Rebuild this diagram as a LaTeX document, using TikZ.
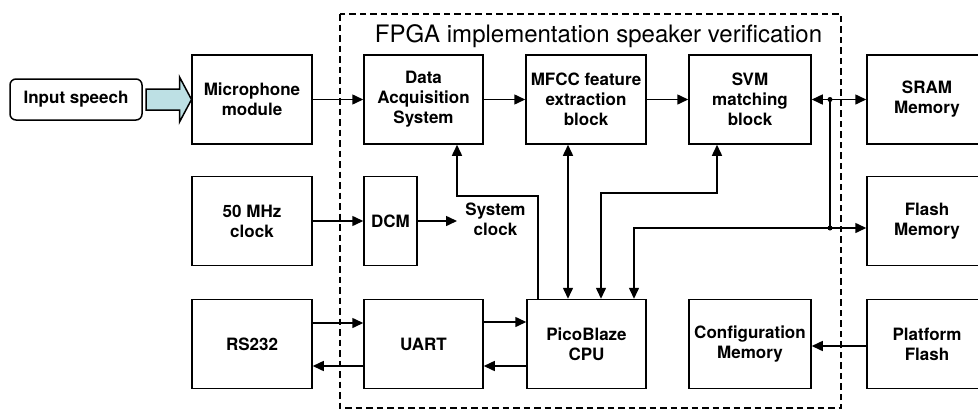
\documentclass[tikz,border=0pt]{standalone}
\usepackage{fontspec}
\setmainfont{TeX Gyre Heros}
\usetikzlibrary{arrows.meta}
\definecolor{feedfill}{RGB}{189,224,228}
\begin{document}
\begin{tikzpicture}[x=1pt,y=-1pt,
  blk/.style={draw, line width=1.5pt, minimum width=120pt, minimum height=89pt,
    inner sep=0pt, align=center, font=\fontsize{17}{20}\selectfont\bfseries},
  lbl/.style={inner sep=0pt, align=center, font=\fontsize{17}{20}\selectfont\bfseries},
  wire/.style={line width=1.5pt},
  arr/.style={wire, -{Triangle[length=11pt,width=10pt]}},
  arrs/.style={wire, {Triangle[length=11pt,width=10pt]}-{Triangle[length=11pt,width=10pt]}},
  dot/.style={fill, circle, inner sep=0pt, minimum size=5pt}]
\useasboundingbox (0,0) rectangle (978,410);
\clip (0,0) rectangle (978,410);

% FPGA boundary
\draw[line width=1.5pt, dash pattern=on 6.5pt off 4pt] (340,14) rectangle (841,408);
\node[anchor=base, inner sep=0pt, font=\fontsize{24}{28}\selectfont] (title) at (598.5,42.5)
  {FPGA implementation speaker verification};

% input
\node[draw, line width=1.5pt, rounded corners=6pt, minimum width=132pt, minimum height=41pt,
  inner sep=0pt, font=\fontsize{17}{20}\selectfont\bfseries] (in) at (76,99.5) {Input speech};
\draw[line width=1.5pt, fill=feedfill, line join=miter]
  (146,89) -- (179.5,89) -- (179.5,77) -- (191.5,99.5) -- (179.5,122) -- (179.5,110) -- (146,110) -- cycle;

% top row
\node[blk] (mic)  at (252,99.5)   {Microphone\\module};
\node[blk, minimum width=119pt] (das) at (423.5,99.5) {Data\\Acquisition\\System};
\node[blk] (mfcc) at (586,99.5)   {MFCC feature\\extraction\\block};
\node[blk, minimum width=122pt] (svm) at (750,99.5) {SVM\\matching\\block};
\node[blk] (sram) at (927,99.5)   {SRAM\\Memory};

% middle row
\node[blk] (clk)  at (252,221)    {50 MHz\\clock};
\node[blk, minimum width=53pt] (dcm) at (390.5,221) {DCM};
\node[lbl] (sys)  at (495.5,219)  {System\\clock};
\node[blk] (flash) at (927,221)   {Flash\\Memory};

% bottom row
\node[blk] (rs)   at (252,344)    {RS232};
\node[blk, minimum width=119pt] (uart) at (423.5,344) {UART};
\node[blk, minimum width=119pt] (pico) at (586.5,344) {PicoBlaze\\CPU};
\node[blk, minimum width=122pt] (conf) at (750,344) {Configuration\\Memory};
\node[blk] (pf)   at (927,344)    {Platform\\Flash};

% data path
\draw[arr] (mic) -- (das);
\draw[arr] (das) -- (mfcc);
\draw[arr] (mfcc) -- (svm);
\draw[arrs] (svm) -- (sram);

% memory bus
\coordinate (b1) at (830,99.5);
\coordinate (b2) at (830,228);
\draw[wire] (b1) -- (b2);
\draw[arr] (b2) -- (b2 -| flash.west);
\coordinate (b3) at (634,228);
\draw[arr] (b2) -- (b3) -- (b3 |- pico.north);
\node[dot] at (b1) {};
\node[dot] at (b2) {};

% CPU links
\coordinate (m1) at (568,0);
\draw[arrs] (m1 |- mfcc.south) -- (m1 |- pico.north);
\coordinate (s1) at (601,193);
\coordinate (s2) at (717,193);
\draw[arrs] (s1 |- pico.north) -- (s1) -- (s2) -- (s2 |- svm.south);

% clocking
\draw[arr] (clk) -- (dcm);
\coordinate (c0) at (457,221);
\draw[arr] (dcm.east |- c0) -- (c0);
\coordinate (k1) at (538,196);
\coordinate (k2) at (457,196);
\draw[arr] (k1 |- pico.north) -- (k1) -- (k2) -- (k2 |- das.south);

% serial port
\coordinate (u1) at (0,323);
\coordinate (u2) at (0,366);
\draw[arr] (rs.east |- u1) -- (uart.west |- u1);
\draw[arr] (uart.west |- u2) -- (rs.east |- u2);
\coordinate (u3) at (0,322);
\draw[arr] (uart.east |- u3) -- (pico.west |- u3);
\draw[arr] (pico.west |- u2) -- (uart.east |- u2);

% configuration
\coordinate (f1) at (0,346);
\draw[arr] (pf.west |- f1) -- (conf.east |- f1);
\end{tikzpicture}
\end{document}
